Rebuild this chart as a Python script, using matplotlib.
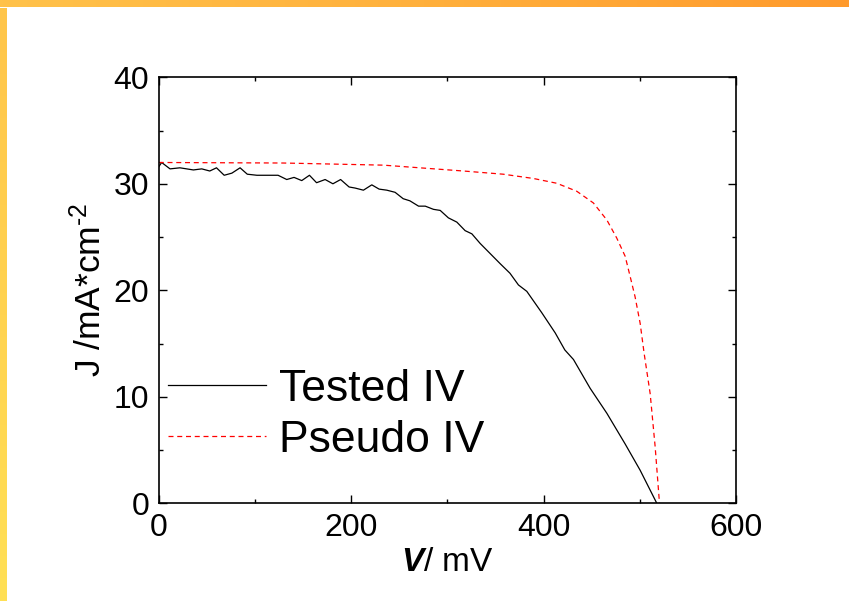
import numpy as np
import matplotlib
matplotlib.use('Agg')
import matplotlib.pyplot as plt
from matplotlib.ticker import MultipleLocator

# measured IV curve (mV, mA/cm2)
tested_v = [0, 3, 11.7, 22, 36, 44.7, 53, 60, 68, 76, 84.5, 92, 102, 124, 133, 140.6,
            148.6, 156.6, 164, 172.9, 181, 189, 197.8, 204, 212.7, 221.4, 229, 237,
            245.6, 254, 261, 270, 277, 285.5, 292.5, 301, 309.8, 318.4, 325.4, 334,
            354.8, 365, 373.8, 382.5, 398, 412, 422, 431, 448.3, 465.7, 484.7, 500.3, 517.6]
tested_j = [31.6, 32.0, 31.4, 31.5, 31.3, 31.4, 31.2, 31.5, 30.8, 31.0, 31.5, 30.9, 30.8,
            30.8, 30.4, 30.6, 30.3, 30.8, 30.1, 30.4, 30.0, 30.4, 29.7, 29.6, 29.4, 29.9,
            29.5, 29.4, 29.2, 28.6, 28.4, 27.9, 27.9, 27.6, 27.5, 26.8, 26.4, 25.6, 25.3,
            24.4, 22.5, 21.6, 20.5, 19.9, 17.9, 16.0, 14.4, 13.5, 10.8, 8.45, 5.57, 3.1, 0.0]

# pseudo IV curve
pseudo_v = [0, 129.5, 233.5, 316.6, 358, 389.3, 413.6, 434.4, 451.7, 465.7, 476, 484.7,
            489.9, 495, 500.3, 504.4, 510.7, 515.9, 520.4]
pseudo_j = [32.0, 31.95, 31.75, 31.2, 30.9, 30.5, 30.05, 29.3, 28.2, 26.6, 24.9, 23.2,
            21.3, 19.4, 16.9, 14.1, 10.3, 5.3, 0.0]

x_ticks = [0, 200, 400, 600]
y_ticks = [0, 10, 20, 30, 40]


def main():
    plt.rcParams['font.family'] = ['Liberation Sans', 'DejaVu Sans']
    plt.rcParams['mathtext.fontset'] = 'custom'
    plt.rcParams['mathtext.rm'] = 'Liberation Sans'
    plt.rcParams['mathtext.it'] = 'Liberation Sans:italic'
    plt.rcParams['mathtext.bf'] = 'Liberation Sans:bold:italic'

    fig = plt.figure(figsize=(8.49, 6.01), dpi=100)

    # slide frame: orange band on top, yellow band on the left
    top = fig.add_axes([0, 1 - 7.5 / 601, 1, 7.5 / 601])
    grad = np.linspace(0, 1, 256).reshape(1, -1)
    top.imshow(grad, aspect='auto', extent=[0, 1, 0, 1],
               cmap=matplotlib.colors.LinearSegmentedColormap.from_list(
                   'tb', ['#FFC24A', '#FFB03C', '#FF9A2C']))
    top.axis('off')
    left = fig.add_axes([0, 0, 7 / 849, 1 - 7.5 / 601])
    left.imshow(grad.T, aspect='auto', extent=[0, 1, 0, 1],
                cmap=matplotlib.colors.LinearSegmentedColormap.from_list(
                    'lb', ['#FFC54A', '#FFE055']))
    left.axis('off')

    ax = fig.add_axes([0.187, 0.1626, 0.680, 0.7088])
    ax.plot(tested_v, tested_j, color='black', lw=0.9, label='Tested IV')
    ax.plot(pseudo_v, pseudo_j, color='red', lw=0.9, dashes=(4, 3), label='Pseudo IV')

    ax.set_xlim(0, 600)
    ax.set_ylim(0, 40)
    ax.set_xticks(x_ticks)
    ax.set_yticks(y_ticks)
    ax.xaxis.set_minor_locator(MultipleLocator(100))
    ax.yaxis.set_minor_locator(MultipleLocator(5))
    ax.tick_params(which='both', direction='in', top=True, right=True, width=1.0)
    ax.tick_params(which='major', length=6)
    ax.tick_params(which='minor', length=3)
    ax.tick_params(axis='x', labelsize=23, pad=7)
    ax.tick_params(axis='y', labelsize=23, pad=7)
    for s in ax.spines.values():
        s.set_linewidth(1.2)

    ax.set_xlabel(r'$\mathbf{V}$/ mV', fontsize=24, labelpad=3)
    ax.set_ylabel(r'J /mA*cm$^{\text{-2}}$', fontsize=25.5, labelpad=4)

    ax.legend(loc='lower left', bbox_to_anchor=(-0.015, 0.058), frameon=False,
              fontsize=32, handlelength=2.2, handletextpad=0.3, labelspacing=0.22,
              borderaxespad=0)

    fig.savefig('out.png', dpi=100)


if __name__ == '__main__':
    main()
